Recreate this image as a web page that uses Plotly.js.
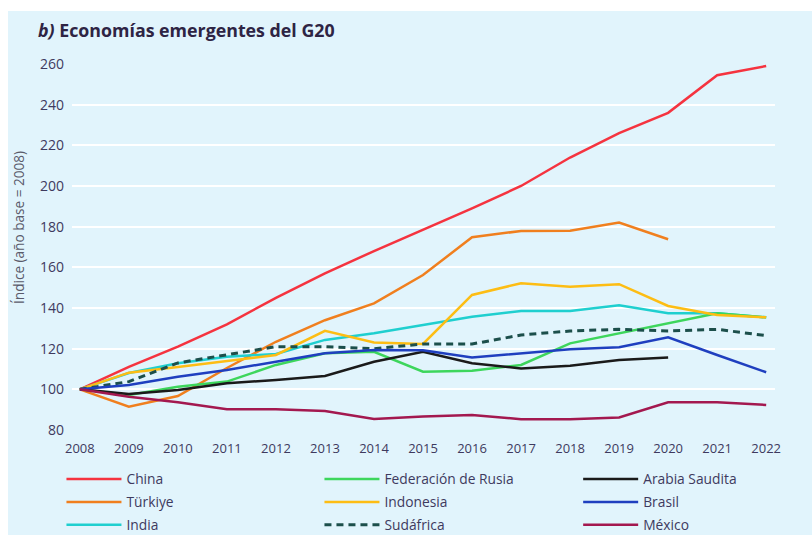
<!DOCTYPE html>
<html>
<head>
<meta charset="utf-8">
<script src="https://cdn.plot.ly/plotly-3.0.1.min.js"></script>
<style>
  html, body { margin: 0; padding: 0; background: #ffffff; width: 812px; height: 535px; overflow: hidden; }
  #chart { position: absolute; left: 8px; top: 11px; width: 804px; height: 580px; }
</style>
</head>
<body>
<div id="chart"></div>
<script>
const years = [2008, 2009, 2010, 2011, 2012, 2013, 2014, 2015, 2016, 2017, 2018, 2019, 2020, 2021, 2022];
const yTicks = [80, 100, 120, 140, 160, 180, 200, 220, 240, 260];

const china      = [100, 111, 121, 132, 145, 157, 168, 178.5, 189, 200, 214, 226, 236, 254.5, 259];
const turkiye    = [100, 91.5, 96.7, 110.5, 123.4, 134, 142.3, 156.2, 174.8, 177.9, 178, 182, 173.8];
const india      = [100, 108, 112.8, 116, 117.4, 124.3, 127.6, 131.6, 135.7, 138.5, 138.5, 141.3, 137.4, 137.4, 135.4];
const rusia      = [100, 97.2, 101.3, 103.8, 112, 117.7, 118.5, 108.7, 109.2, 112, 122.6, 127.6, 132.5, 137.4, 135.4];
const indonesia  = [100, 108.2, 111, 114, 116.9, 128.8, 123, 122.3, 146.4, 152.2, 150.5, 151.7, 141, 136.6, 135.4];
const sudafrica  = [100, 103.8, 113, 116.9, 121, 121, 120, 122.3, 122.3, 126.7, 128.7, 129.5, 128.7, 129.5, 126.4];
const arabia     = [100, 97.7, 99.7, 103, 104.6, 106.6, 113.6, 118.5, 112.8, 110.3, 111.6, 114.4, 115.6];
const brasil     = [100, 102.1, 106.2, 109.5, 113.6, 117.7, 119.4, 119.2, 115.7, 117.7, 119.7, 120.7, 125.6, 116.9, 108.4];
const mexico     = [100, 96.4, 93.6, 90.2, 90.2, 89.3, 85.4, 86.6, 87.4, 85.3, 85.3, 86.2, 93.6, 93.6, 92.3];

const names = ['China', 'Türkiye', 'India', 'Federación de Rusia', 'Indonesia', 'Sudáfrica', 'Arabia Saudita', 'Brasil', 'México'];
const yTitle = 'Índice (año base = 2008)';

function mk(name, vals, color, legend, dash, width) {
  return {
    type: 'scatter', mode: 'lines', name: name,
    x: years.slice(0, vals.length), y: vals,
    line: { color: color, width: width || 2.5, dash: dash || 'solid' },
    legend: legend, legendgroup: name,
    hoverinfo: 'x+y+name'
  };
}

const traces = [
  mk(names[0], china, '#f5333f', 'legend'),
  mk(names[1], turkiye, '#f07f1e', 'legend'),
  mk(names[2], india, '#1fcfcf', 'legend'),
  mk(names[3], rusia, '#3dd65c', 'legend2'),
  mk(names[4], indonesia, '#fdbd14', 'legend2'),
  mk(names[5], sudafrica, '#1c4f4b', 'legend2', '7px,5px', 3),
  mk(names[6], arabia, '#1a1a1a', 'legend3'),
  mk(names[7], brasil, '#1f3fbf', 'legend3'),
  mk(names[8], mexico, '#a3184f', 'legend3')
];

const txtColor = '#3e3a5e';
const legFont = { family: 'Open Sans, Noto Sans, sans-serif', size: 13.8, color: txtColor };
function leg(x) {
  return {
    x: x, xanchor: 'left', y: -0.0915, yanchor: 'top',
    orientation: 'v', bgcolor: 'rgba(0,0,0,0)', borderwidth: 0,
    font: legFont, tracegroupgap: 2, itemwidth: 55, traceorder: 'grouped'
  };
}

const layout = {
  width: 804, height: 580,
  margin: { l: 64, r: 37, t: 53, b: 161 },
  paper_bgcolor: '#e1f4fc',
  plot_bgcolor: '#e1f4fc',
  font: { family: 'Open Sans, Noto Sans, sans-serif', color: txtColor },
  title: {
    text: '<b><i>b)</i> Economías emergentes del G20</b>',
    font: { size: 17.8, color: '#2e2444' },
    xref: 'container', x: 30 / 804, xanchor: 'left',
    yref: 'container', y: 1 - 20 / 580, yanchor: 'middle'
  },
  xaxis: {
    range: [2007.84, 2022.18],
    tickvals: years, ticktext: years.map(String),
    showgrid: false, zeroline: false, showline: false, ticks: '',
    ticklabelstandoff: 9,
    tickfont: { size: 13, color: txtColor }
  },
  yaxis: {
    range: [80, 260],
    tickvals: yTicks, ticktext: yTicks.map(String),
    showgrid: true, gridcolor: '#ffffff', gridwidth: 2,
    zeroline: false, showline: false, ticks: '',
    ticklabelstandoff: 7,
    tickfont: { size: 14, color: txtColor }
  },
  annotations: [{
    text: yTitle, textangle: -90, showarrow: false,
    xref: 'paper', x: (18 - 72) / 703, xanchor: 'center',
    yref: 'paper', y: (430 - 228) / 366, yanchor: 'middle',
    font: { size: 13.6, color: '#5a5a6a' }
  }],
  showlegend: true,
  legend: leg(-0.015),
  legend2: leg(0.352),
  legend3: leg(0.72)
};

Plotly.newPlot('chart', traces, layout, { displayModeBar: false, staticPlot: true });
</script>
</body>
</html>
